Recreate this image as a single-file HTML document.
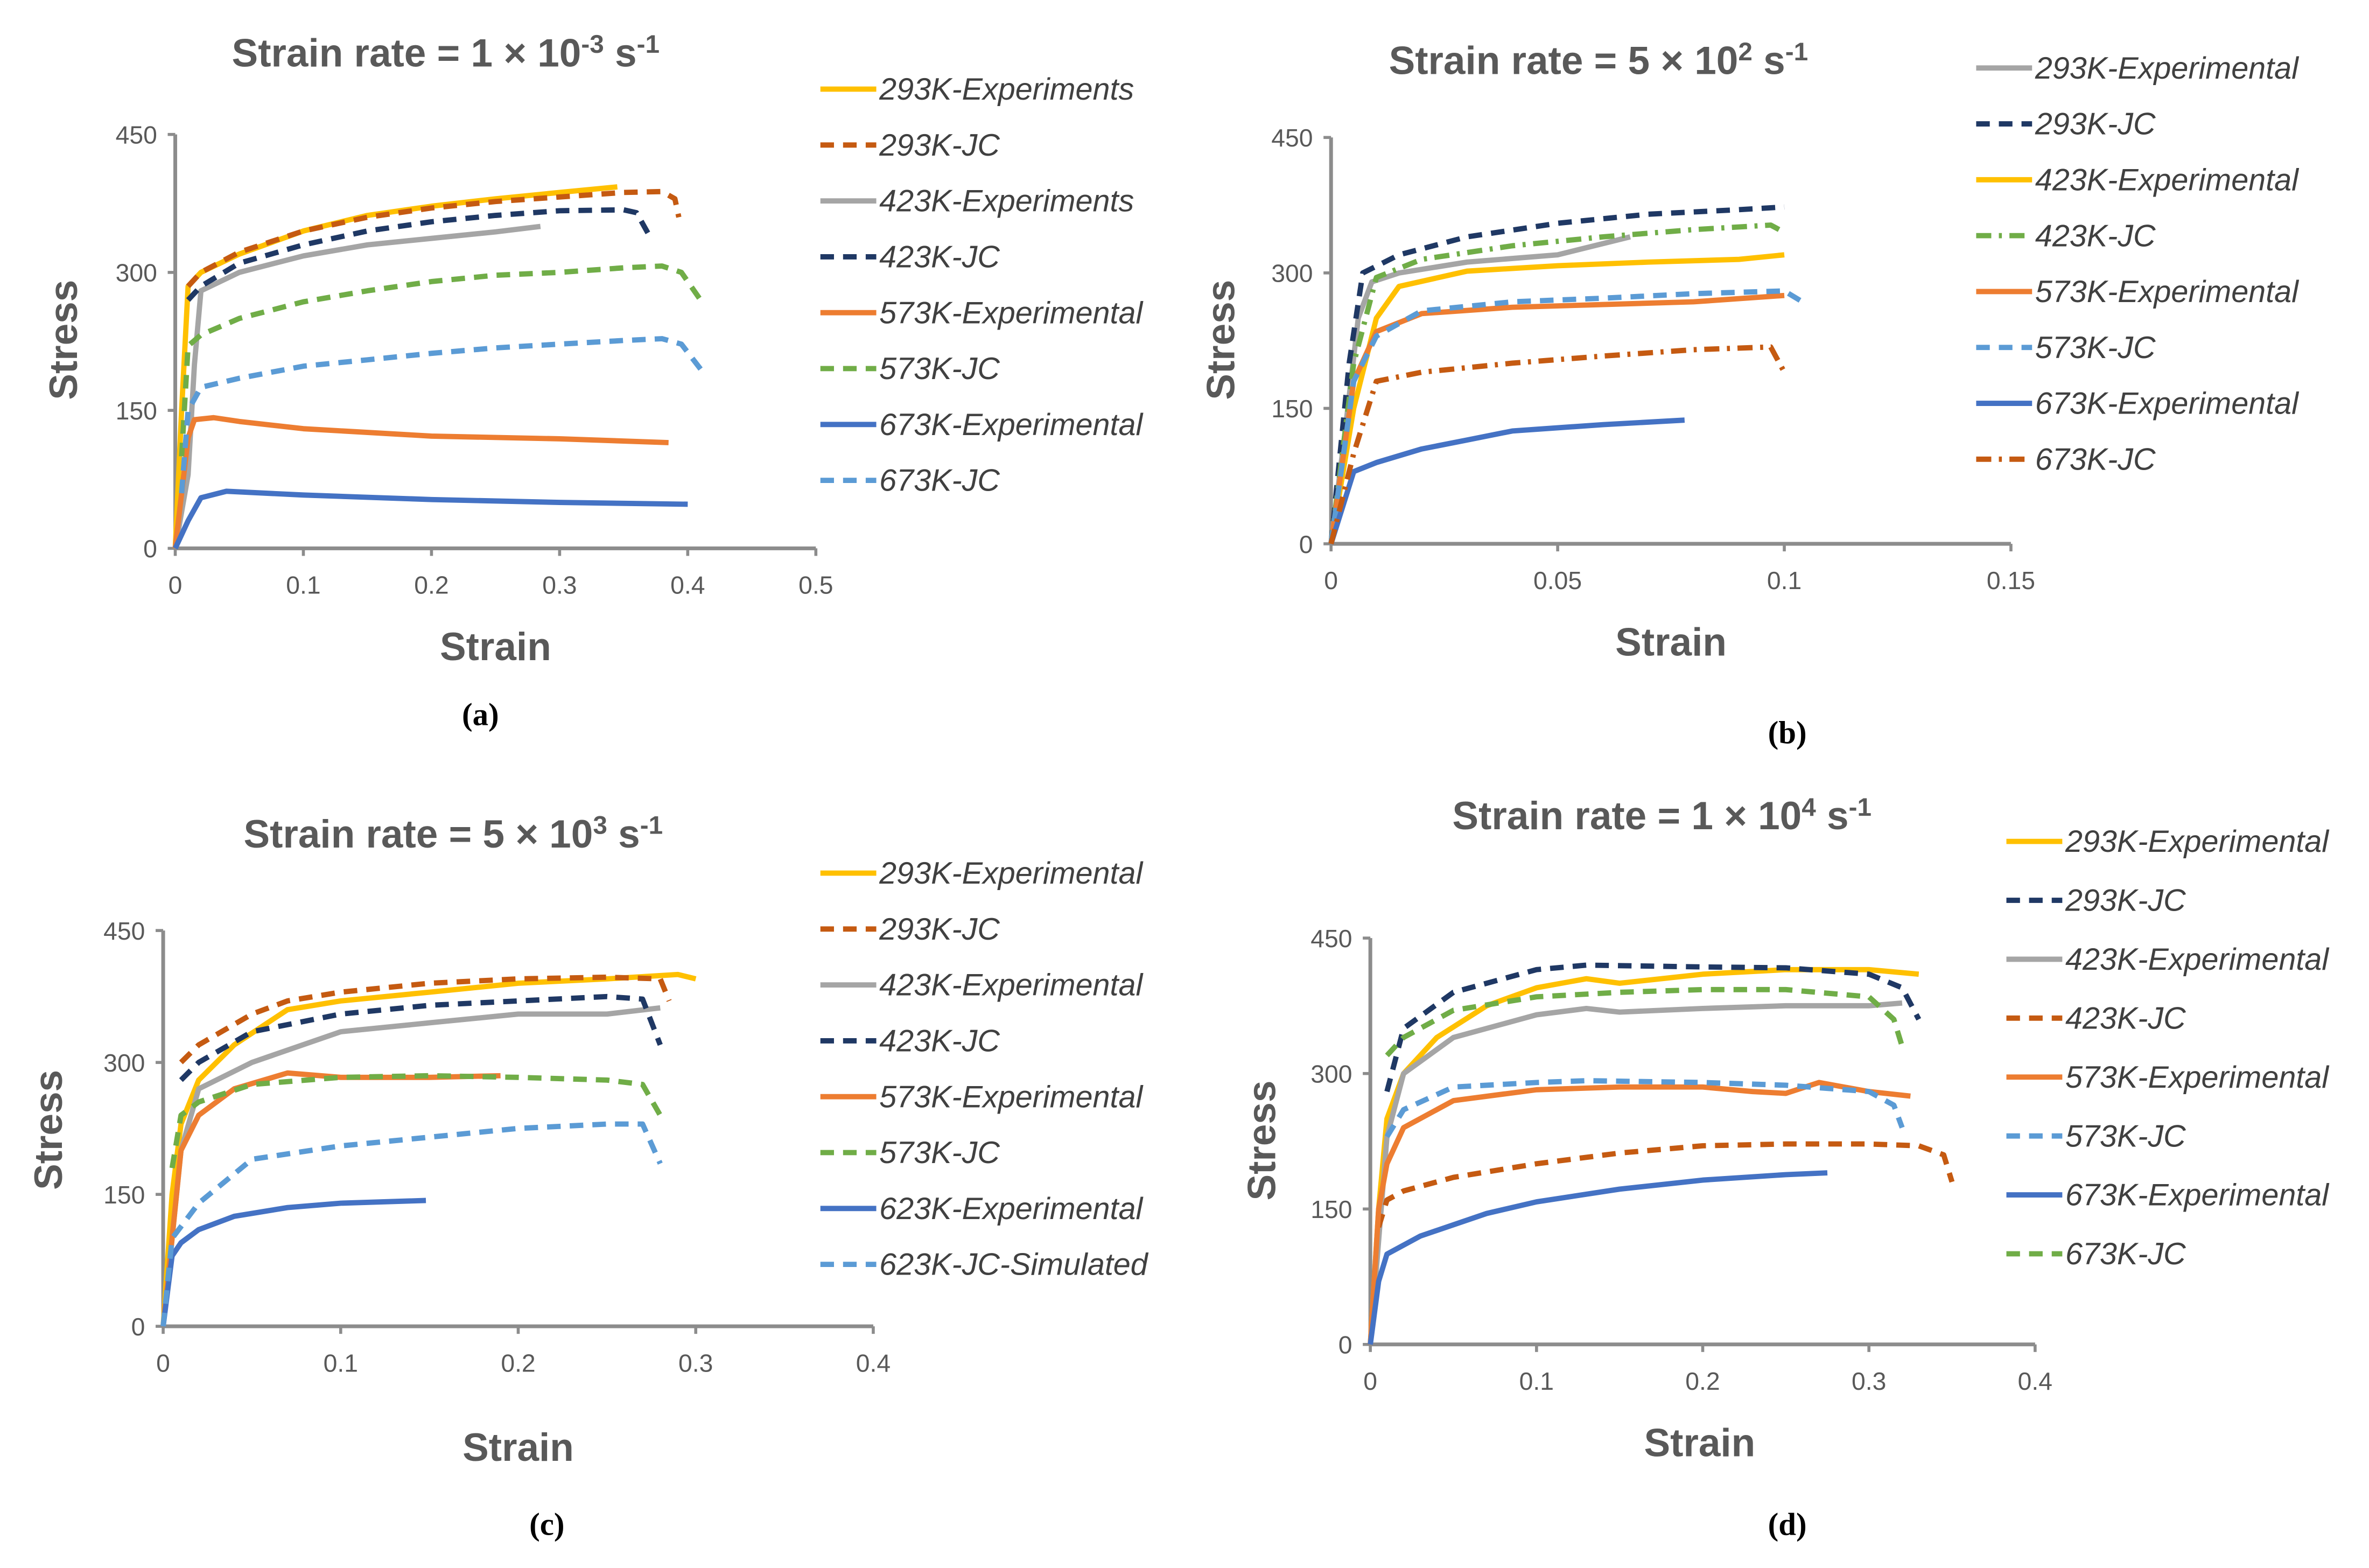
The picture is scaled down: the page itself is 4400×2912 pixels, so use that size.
<!DOCTYPE html>
<html><head><meta charset="utf-8">
<style>
html,body{margin:0;padding:0;background:#fff;}
svg{display:block;}
.t{font-family:"Liberation Sans",sans-serif;fill:#595959;}
</style></head>
<body>
<svg id="fig" width="4400" height="2912" viewBox="0 0 1568 1038" preserveAspectRatio="none" xmlns="http://www.w3.org/2000/svg"></svg>
<script>
// ---------- data (strain, stress) ----------
const a_293Exp=[[0,0],[0.005,150],[0.01,285],[0.02,300],[0.05,320],[0.1,345],[0.15,362],[0.2,372],[0.25,380],[0.3,387],[0.345,393]];
const a_293JC=[[0.01,285],[0.02,300],[0.05,322],[0.1,345],[0.15,360],[0.2,370],[0.25,377],[0.3,382],[0.35,387],[0.38,388],[0.39,380],[0.393,360]];
const a_423Exp=[[0,0],[0.01,80],[0.015,200],[0.02,280],[0.05,300],[0.1,318],[0.15,330],[0.2,337],[0.25,344],[0.285,350]];
const a_423JC=[[0.01,270],[0.02,285],[0.05,310],[0.1,330],[0.15,345],[0.2,355],[0.25,362],[0.3,367],[0.35,368],[0.36,365],[0.37,340]];
const a_573Exp=[[0,0],[0.005,60],[0.01,120],[0.015,140],[0.03,142],[0.05,138],[0.1,130],[0.2,122],[0.3,119],[0.385,115]];
const a_573JC=[[0.005,100],[0.01,220],[0.02,232],[0.05,250],[0.1,268],[0.15,280],[0.2,290],[0.25,297],[0.3,300],[0.35,305],[0.38,307],[0.395,300],[0.41,270]];
const a_673Exp=[[0,0],[0.01,30],[0.02,55],[0.04,62],[0.1,58],[0.2,53],[0.3,50],[0.4,48]];
const a_673JC=[[0.005,60],[0.01,150],[0.02,175],[0.05,185],[0.1,198],[0.15,205],[0.2,212],[0.25,218],[0.3,222],[0.35,226],[0.38,228],[0.395,222],[0.41,195]];

const b_293Exp=[[0,0],[0.003,120],[0.006,250],[0.009,290],[0.015,300],[0.03,312],[0.05,320],[0.066,340]];
const b_293JC=[[0,0],[0.004,200],[0.007,300],[0.015,320],[0.03,340],[0.05,355],[0.07,365],[0.09,370],[0.1,373]];
const b_423Exp=[[0,0],[0.005,150],[0.01,250],[0.015,285],[0.03,302],[0.05,308],[0.07,312],[0.09,315],[0.1,320]];
const b_423JC=[[0,0],[0.005,200],[0.01,295],[0.02,315],[0.04,330],[0.06,340],[0.08,348],[0.097,353],[0.1,345]];
const b_573Exp=[[0,0],[0.005,180],[0.01,235],[0.02,255],[0.04,262],[0.06,265],[0.08,268],[0.1,275]];
const b_573JC=[[0,0],[0.005,180],[0.01,230],[0.02,258],[0.04,268],[0.06,272],[0.08,277],[0.1,280],[0.105,265]];
const b_673Exp=[[0,0],[0.005,80],[0.01,90],[0.02,105],[0.03,115],[0.04,125],[0.06,132],[0.078,137]];
const b_673JC=[[0,0],[0.005,100],[0.01,180],[0.02,190],[0.04,200],[0.06,208],[0.08,215],[0.097,218],[0.1,190]];

const c_293Exp=[[0,0],[0.005,150],[0.01,230],[0.02,280],[0.04,320],[0.07,360],[0.1,370],[0.15,380],[0.2,390],[0.25,395],[0.29,400],[0.3,395]];
const c_293JC=[[0.01,300],[0.02,320],[0.05,355],[0.07,370],[0.1,380],[0.15,390],[0.2,395],[0.25,397],[0.28,395],[0.285,370]];
const c_423Exp=[[0,0],[0.01,200],[0.02,270],[0.05,300],[0.1,335],[0.15,345],[0.2,355],[0.25,355],[0.28,362]];
const c_423JC=[[0.01,280],[0.02,300],[0.05,335],[0.1,355],[0.15,365],[0.2,370],[0.25,375],[0.27,372],[0.28,320]];
const c_573Exp=[[0,0],[0.01,200],[0.02,240],[0.04,270],[0.07,288],[0.1,283],[0.15,283],[0.19,285]];
const c_573JC=[[0.005,180],[0.01,240],[0.02,255],[0.05,275],[0.1,283],[0.15,285],[0.2,283],[0.25,280],[0.27,275],[0.28,240]];
const c_623Exp=[[0,0],[0.005,80],[0.01,95],[0.02,110],[0.04,125],[0.07,135],[0.1,140],[0.148,143]];
const c_623JC=[[0,0],[0.005,100],[0.02,140],[0.05,190],[0.1,205],[0.15,215],[0.2,225],[0.25,230],[0.27,230],[0.28,185]];

const d_293Exp=[[0,0],[0.005,150],[0.01,250],[0.02,300],[0.04,340],[0.07,375],[0.1,395],[0.13,405],[0.15,400],[0.2,410],[0.25,415],[0.3,415],[0.33,410]];
const d_293JC=[[0.01,280],[0.02,350],[0.05,390],[0.1,415],[0.13,420],[0.2,418],[0.25,417],[0.3,410],[0.32,395],[0.33,360]];
const d_423Exp=[[0,0],[0.01,230],[0.02,300],[0.05,340],[0.1,365],[0.13,372],[0.15,368],[0.2,372],[0.25,375],[0.3,375],[0.32,378]];
const d_423JC=[[0.005,130],[0.01,160],[0.02,170],[0.05,185],[0.1,200],[0.15,212],[0.2,220],[0.25,222],[0.3,222],[0.33,220],[0.345,210],[0.35,180]];
const d_573Exp=[[0,0],[0.005,150],[0.01,200],[0.02,240],[0.05,270],[0.1,282],[0.15,285],[0.2,285],[0.23,280],[0.25,278],[0.27,290],[0.3,280],[0.325,275]];
const d_573JC=[[0.01,230],[0.02,260],[0.05,285],[0.1,290],[0.13,292],[0.2,290],[0.25,287],[0.3,280],[0.315,265],[0.32,240]];
const d_673Exp=[[0,0],[0.005,70],[0.01,100],[0.03,120],[0.07,145],[0.1,158],[0.15,172],[0.2,182],[0.25,188],[0.275,190]];
const d_673JC=[[0.01,320],[0.02,340],[0.05,370],[0.1,385],[0.15,390],[0.2,393],[0.25,393],[0.3,385],[0.315,360],[0.32,330]];

const yTicks=[0,150,300,450];
const xTicksA=[0,0.1,0.2,0.3,0.4,0.5];
const xTicksB=[0,0.05,0.1,0.15];
const xTicksCD=[0,0.1,0.2,0.3,0.4];
const namesA=["293K-Experiments","293K-JC","423K-Experiments","423K-JC","573K-Experimental","573K-JC","673K-Experimental","673K-JC"];
const namesB=["293K-Experimental","293K-JC","423K-Experimental","423K-JC","573K-Experimental","573K-JC","673K-Experimental","673K-JC"];
const namesC=["293K-Experimental","293K-JC","423K-Experimental","423K-JC","573K-Experimental","573K-JC","623K-Experimental","623K-JC-Simulated"];
const namesD=["293K-Experimental","293K-JC","423K-Experimental","423K-JC","573K-Experimental","573K-JC","673K-Experimental","673K-JC"];

const YEL="#FFC000",BRN="#C55A11",GRY="#A5A5A5",NAV="#1F3864",ORG="#ED7D31",GRN="#70AD47",BLU="#4472C4",LBL="#5B9BD5";
const DASH="9,6",DD="10,5,2,5";

const NS="http://www.w3.org/2000/svg";
const svg=document.getElementById('fig');
function mk(tag,attrs,parent){const e=document.createElementNS(NS,tag);for(const k in attrs)e.setAttribute(k,attrs[k]);(parent||svg).appendChild(e);return e;}

function panel(p){
  const g=mk('g',{});
  
  
  const sx=v=>p.x0+(v-p.xmin)/(p.xmax-p.xmin)*(p.x1-p.x0);
  const sy=v=>p.y0-(v/450)*(p.y0-p.y1);
  const ya=mk('line',{x1:p.x0,y1:p.y0,x2:p.x0,y2:p.y1,stroke:'#8c8c8c','stroke-width':2.5},g);
  
  
  const xa=mk('line',{x1:p.x0,y1:p.y0,x2:p.x1,y2:p.y0,stroke:'#8c8c8c','stroke-width':2.5},g);
  
  
  yTicks.forEach(v=>{
    mk('line',{x1:p.x0-5,y1:sy(v),x2:p.x0,y2:sy(v),stroke:'#8c8c8c','stroke-width':2},g);
    const t=mk('text',{x:p.x0-12,y:sy(v)+6,'text-anchor':'end','font-size':16.5,class:'t'},g);
    t.textContent=v;
    
    
  });
  p.xt.forEach(v=>{
    mk('line',{x1:sx(v),y1:p.y0,x2:sx(v),y2:p.y0+5,stroke:'#8c8c8c','stroke-width':2},g);
    const t=mk('text',{x:sx(v),y:p.y0+30,'text-anchor':'middle','font-size':16.5,class:'t'},g);
    t.textContent=v;
    
    
  });
  p.series.forEach((s,i)=>{
    const d=s.d.map((q,j)=>(j?'L':'M')+sx(q[0]).toFixed(1)+','+sy(q[1]).toFixed(1)).join(' ');
    const path=mk('path',{d:d,fill:'none',stroke:s.c,'stroke-width':3.5,'stroke-linejoin':'round'},g);
    if(s.dash)path.setAttribute('stroke-dasharray',s.dash);
    
    
    const ly=p.ly0+i*p.lstep;
    const ll=mk('line',{x1:p.lx,y1:ly,x2:p.lx+37,y2:ly,stroke:s.c,'stroke-width':3.5},g);
    if(s.dash)ll.setAttribute('stroke-dasharray',s.dash);
    
    
    const lt=mk('text',{x:p.lx+39,y:ly+7,'font-size':20.5,'font-style':'italic',fill:'#404040','font-family':'Liberation Sans, sans-serif'},g);
    lt.textContent=p.names[i];
    
    
  });
  const tt=mk('text',{x:p.tx,y:p.ty,'text-anchor':'middle','font-size':26,'font-weight':'bold',class:'t'},g);
  tt.innerHTML=p.title;
  
  
  const yt=mk('text',{x:0,y:0,transform:'translate('+p.ylx+','+p.yly+') rotate(-90)','text-anchor':'middle','font-size':26,'font-weight':'bold',class:'t'},g);
  yt.textContent='Stress';
  
  
  const xt=mk('text',{x:p.xlx,y:p.xly,'text-anchor':'middle','font-size':26,'font-weight':'bold',class:'t'},g);
  xt.textContent='Strain';
  
  
  const cp=mk('text',{x:p.cx,y:p.cy,'text-anchor':'middle','font-size':21,'font-weight':'bold',fill:'#000','font-family':'Liberation Serif, serif'},g);
  cp.textContent=p.cap;
  
  
}
const sup=s=>'<tspan dy="-9" font-size="17">'+s+'</tspan><tspan dy="9"> </tspan>';
const sup2='s<tspan dy="-9" font-size="17">-1</tspan>';
panel({id:'a',x0:116,x1:540,xmin:0,xmax:0.5,y0:363,y1:89,xt:xTicksA,names:namesA,lx:543,ly0:59,lstep:37,
  tx:295,ty:44,title:'Strain rate = 1 × 10'+sup('-3')+sup2,ylx:51,yly:225,xlx:328,xly:437,cx:318,cy:480,cap:'(a)',
  series:[{d:a_293Exp,c:YEL},{d:a_293JC,c:BRN,dash:DASH},{d:a_423Exp,c:GRY},{d:a_423JC,c:NAV,dash:DASH},{d:a_573Exp,c:ORG},{d:a_573JC,c:GRN,dash:DASH},{d:a_673Exp,c:BLU},{d:a_673JC,c:LBL,dash:DASH}]});
panel({id:'b',x0:881,x1:1331,xmin:0,xmax:0.15,y0:360,y1:91,xt:xTicksB,names:namesB,lx:1308,ly0:45,lstep:37,
  tx:1058,ty:49,title:'Strain rate = 5 × 10'+sup('2')+sup2,ylx:817,yly:225,xlx:1106,xly:434,cx:1183,cy:492,cap:'(b)',
  series:[{d:b_293Exp,c:GRY},{d:b_293JC,c:NAV,dash:DASH},{d:b_423Exp,c:YEL},{d:b_423JC,c:GRN,dash:DD},{d:b_573Exp,c:ORG},{d:b_573JC,c:LBL,dash:DASH},{d:b_673Exp,c:BLU},{d:b_673JC,c:BRN,dash:DD}]});
panel({id:'c',x0:108,x1:578,xmin:0,xmax:0.4,y0:878,y1:616,xt:xTicksCD,names:namesC,lx:543,ly0:578,lstep:37,
  tx:300,ty:561,title:'Strain rate = 5 × 10'+sup('3')+sup2,ylx:41,yly:748,xlx:343,xly:967,cx:362,cy:1016,cap:'(c)',
  series:[{d:c_293Exp,c:YEL},{d:c_293JC,c:BRN,dash:DASH},{d:c_423Exp,c:GRY},{d:c_423JC,c:NAV,dash:DASH},{d:c_573Exp,c:ORG},{d:c_573JC,c:GRN,dash:DASH},{d:c_623Exp,c:BLU},{d:c_623JC,c:LBL,dash:DASH}]});
panel({id:'d',x0:907,x1:1347,xmin:0,xmax:0.4,y0:890,y1:621,xt:xTicksCD,names:namesD,lx:1328,ly0:557,lstep:39,
  tx:1100,ty:549,title:'Strain rate =  1 × 10'+sup('4')+sup2,ylx:844,yly:755,xlx:1125,xly:964,cx:1183,cy:1016,cap:'(d)',
  series:[{d:d_293Exp,c:YEL},{d:d_293JC,c:NAV,dash:DASH},{d:d_423Exp,c:GRY},{d:d_423JC,c:BRN,dash:DASH},{d:d_573Exp,c:ORG},{d:d_573JC,c:LBL,dash:DASH},{d:d_673Exp,c:BLU},{d:d_673JC,c:GRN,dash:DASH}]});
</script>
</body></html>
